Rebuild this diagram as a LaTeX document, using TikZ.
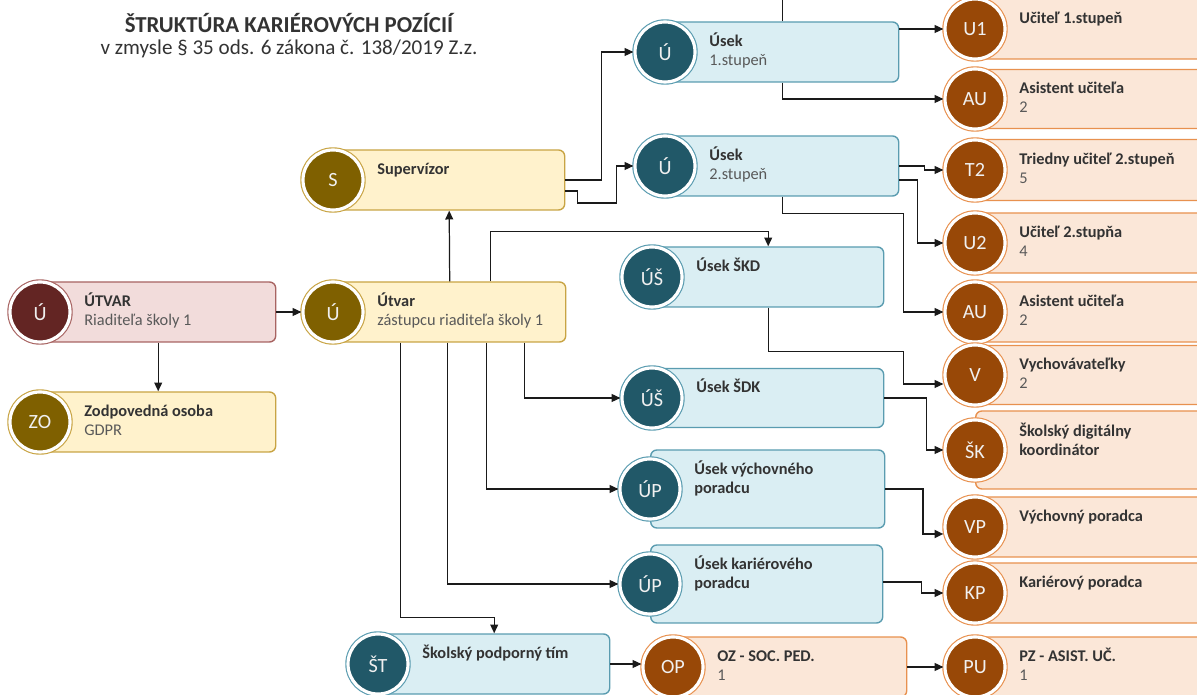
\documentclass[tikz,border=0pt]{standalone}
\usepackage{fontspec}
\setmainfont{Carlito}
\usetikzlibrary{arrows.meta}

\definecolor{maroondark}{HTML}{632523}
\definecolor{maroonfill}{HTML}{F2DCDB}
\definecolor{maroonline}{HTML}{A86462}
\definecolor{golddark}{HTML}{7F6000}
\definecolor{goldfill}{HTML}{FFF2CC}
\definecolor{goldline}{HTML}{C8A444}
\definecolor{tealdark}{HTML}{215868}
\definecolor{tealfill}{HTML}{DAEEF3}
\definecolor{tealline}{HTML}{5A9CB0}
\definecolor{orangedark}{HTML}{984807}
\definecolor{orangefill}{HTML}{FBE7D8}
\definecolor{orangeline}{HTML}{E8914F}
\definecolor{titlecol}{HTML}{333333}
\definecolor{subcol}{HTML}{595959}
\definecolor{badgetext}{HTML}{F0F0F0}
\definecolor{linecol}{HTML}{1A1A1A}

\tikzset{
	box/.style={rectangle, rounded corners=3.5pt, fill=#1fill, draw=#1line, line width=0.8pt, inner sep=0pt},
	badge/.style={circle, minimum size=1.2cm, inner sep=0pt, fill=#1dark, draw=white, line width=1.8pt,
		preaction={draw=#1line, line width=3.1pt}, text=badgetext, font=\fontsize{11.5}{13}\selectfont},
	titul/.style={anchor=base west, inner sep=0pt, text=titlecol, font=\fontsize{9.3}{11}\selectfont\bfseries},
	popis/.style={anchor=base west, inner sep=0pt, text=subcol, font=\fontsize{9.3}{11}\selectfont},
	spoj/.style={draw=linecol, line width=0.7pt},
	sipka/.style={spoj, -{Triangle[length=5pt,width=4.5pt]}},
}

\newcommand{\tuc}[1]{{\bfseries\color{titlecol}#1}}
\newcommand{\pozicia}[9][0]{%
	\node[box=#3, minimum width=#5*0.02cm, minimum height=#6*0.02cm, anchor=west] (#2-b) at (#4) {};
	\node[badge=#3] (#2) at (#4) {#7};
	\node[titul] (#2-t) at ([shift={(44,#1-5)}]#2) {#8};
	\node[popis] (#2-s) at ([shift={(44,#1+14)}]#2) {#9};
}

\begin{document}
\begin{tikzpicture}[x=0.02cm, y=-0.02cm]
	\useasboundingbox (0,0) rectangle (1197,695);
	\clip (0,0) rectangle (1197,695);
	\node[font=\fontsize{13}{15}\selectfont\bfseries, text=titlecol, anchor=base] (nadpis) at (289,33) {ŠTRUKTÚRA KARIÉROVÝCH POZÍCIÍ};
	\node[font=\fontsize{12}{14}\selectfont, text=titlecol, anchor=base] (podnadpis) at (289,55) {v zmysle § 35 ods. 6 zákona č. 138/2019 Z.z.};

	\pozicia{utvar}{maroon}{40,312}{235}{60}{Ú}{ÚTVAR}{Riaditeľa školy 1}
	\pozicia{zo}{gold}{40,422}{235}{60}{ZO}{Zodpovedná osoba}{GDPR}
	\pozicia{zast}{gold}{333,312}{232}{60}{Ú}{Útvar}{zástupcu riaditeľa školy 1}
	\pozicia{sup}{gold}{333,180}{231}{60}{S}{Supervízor}{}
	\pozicia{usek1}{teal}{665,52}{233}{60}{Ú}{Úsek}{1.stupeň}
	\pozicia{usek2}{teal}{665,166}{233}{60}{Ú}{Úsek}{2.stupeň}
	\pozicia{skd}{teal}{652,277}{231}{60}{ÚŠ}{Úsek ŠKD}{}
	\pozicia{sdk}{teal}{652,398}{231}{59}{ÚŠ}{Úsek ŠDK}{}
	\pozicia[-9]{uvp}{teal}{650,489}{234}{78}{ÚP}{Úsek výchovného}{\tuc{poradcu}}
	\pozicia[-9]{ukp}{teal}{650,584}{232}{78}{ÚP}{Úsek kariérového}{\tuc{poradcu}}
	\pozicia{st}{teal}{378,664}{231}{60}{ŠT}{Školský podporný tím}{}
	\pozicia{op}{orange}{673,667}{233}{60}{OP}{OZ - SOC. PED.}{1}

	\pozicia{u1}{orange}{975,29}{240}{60}{U1}{Učiteľ 1.stupeň}{}
	\pozicia{au1}{orange}{975,99}{240}{59}{AU}{Asistent učiteľa}{2}
	\pozicia{t2}{orange}{975,170}{240}{61}{T2}{Triedny učiteľ 2.stupeň}{5}
	\pozicia{u2}{orange}{975,243}{240}{60}{U2}{Učiteľ 2.stupňa}{4}
	\pozicia{au2}{orange}{975,312}{240}{60}{AU}{Asistent učiteľa}{2}
	\pozicia{v}{orange}{975,375}{240}{59}{V}{Vychovávateľky}{2}
	\pozicia[-8]{sk}{orange}{975,450}{240}{78}{ŠK}{Školský digitálny}{\tuc{koordinátor}}
	\pozicia{vp}{orange}{975,527}{240}{60}{VP}{Výchovný poradca}{}
	\pozicia{kp}{orange}{975,593}{240}{60}{KP}{Kariérový poradca}{}
	\pozicia{pu}{orange}{975,667}{240}{60}{PU}{PZ - ASIST. UČ.}{1}

	\draw[sipka] (utvar-b.east) -- (zast.west);
	\draw[sipka] (utvar-b.south) -- (zo-b.north);
	\draw[sipka] (zast-b.north) -- (sup-b.south);
	\draw[sipka] (sup-b.east) -- ++(36,0) |- (usek1.west);
	\draw[sipka] ([shift={(0,11)}]sup-b.east) -- ++(12,0) -- ++(0,12) -- ++(39,0) |- (usek2.west);
	\draw[spoj] (usek1-b.north) -- ++(0,-40);
	\draw[sipka] (usek1-b.east |- u1) -- (u1.west);
	\draw[sipka] (usek1-b.south) |- (au1.west);
	\draw[sipka] (usek2-b.east) -- ++(25,0) |- (t2.west);
	\draw[sipka] ([shift={(0,14)}]usek2-b.east) -- ++(18,0) |- (u2.west);
	\draw[sipka] (usek2-b.south) -- ++(0,17) -- ++(121,0) |- (au2.west);
	\draw[sipka] ([shift={(41,0)}]zast-b.north) -- ++(0,-50) -| (skd-b.north);
	\draw[sipka] (skd-b.south) -- ++(0,44) -- ++(135,0) |- ([shift={(0,9)}]v.west);
	\draw[sipka] ([shift={(75,0)}]zast-b.south) |- (sdk.west);
	\draw[sipka] (sdk-b.east) -- ++(42,0) |- (sk.west);
	\draw[sipka] ([shift={(37,0)}]zast-b.south) |- (uvp.west);
	\draw[sipka] ([shift={(-2,0)}]zast-b.south) |- (ukp.west);
	\draw[sipka] ([shift={(-49,0)}]zast-b.south) -- ++(0,275) -| (st-b.north);
	\draw[sipka, line width=1.1pt] (uvp-b.east) -- ++(38,0) |- ([shift={(0,7)}]vp.west);
	\draw[sipka] ([shift={(0,-2)}]ukp-b.east) -- ++(38,0) |- (kp.west);
	\draw[sipka] (st-b.east) -- (st-b.east -| op.west);
	\draw[sipka] (op-b.east) -- (pu.west);
\end{tikzpicture}
\end{document}
